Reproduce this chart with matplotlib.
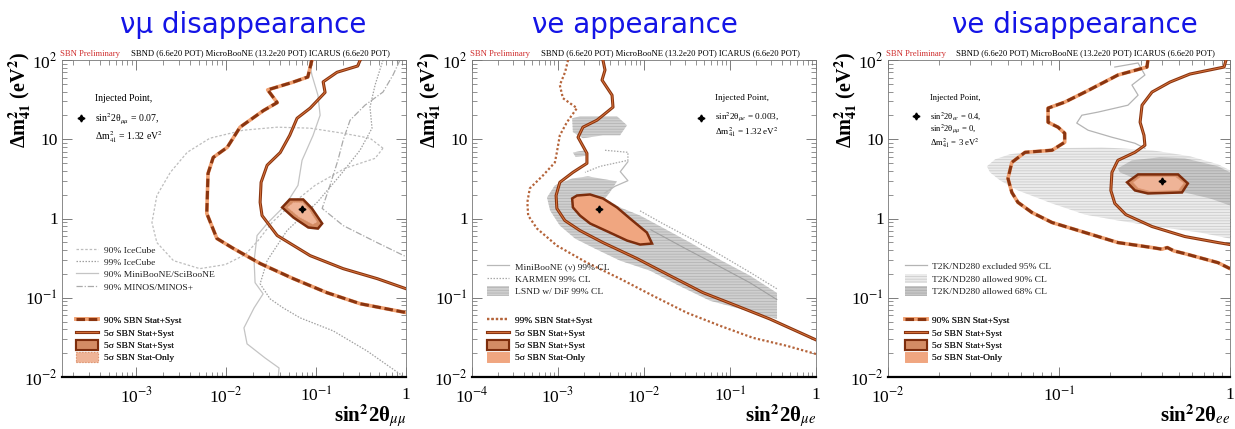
import matplotlib
matplotlib.use('Agg')
import matplotlib.pyplot as plt
import numpy as np
from matplotlib.lines import Line2D
from matplotlib.patches import Patch
from matplotlib.ticker import LogLocator, FuncFormatter, NullFormatter

plt.rcParams['font.family'] = ['Liberation Serif', 'DejaVu Serif']
plt.rcParams['mathtext.fontset'] = 'stix'
plt.rcParams['hatch.linewidth'] = 0.5

# ---------------- numu disappearance (sin^2 2theta_mumu, dm2_41) ----------------
mm_sbn90_x = [0.090, 0.081, 0.054, 0.029, 0.037, 0.026, 0.0143, 0.0103, 0.0072, 0.0063,
              0.0061, 0.0079, 0.012, 0.024, 0.056, 0.132, 0.31, 1.0]
mm_sbn90_y = [100, 61, 52, 42, 29, 23, 14.2, 7.9, 5.9, 3.7,
              1.16, 0.56, 0.42, 0.27, 0.174, 0.116, 0.084, 0.065]
mm_sbn5s_x = [0.31, 0.29, 0.171, 0.12, 0.126, 0.086, 0.0615, 0.051, 0.040, 0.0286,
              0.0245, 0.0239, 0.0251, 0.037, 0.086, 0.20, 0.48, 1.0]
mm_sbn5s_y = [100, 84, 70, 53, 39, 24.7, 18.4, 11.2, 6.8, 4.7,
              2.86, 1.6, 1.09, 0.61, 0.34, 0.233, 0.174, 0.13]
mm_syst_x = [0.042, 0.051, 0.072, 0.090, 0.117, 0.105, 0.082, 0.056]
mm_syst_y = [1.38, 1.74, 1.74, 1.34, 0.865, 0.746, 0.77, 1.03]
mm_stat_x = [0.048, 0.056, 0.071, 0.084, 0.103, 0.092, 0.064]
mm_stat_y = [1.38, 1.60, 1.60, 1.30, 0.90, 0.84, 1.05]
mm_ic90_x = [0.555, 0.398, 0.2, 0.086, 0.037, 0.0155, 0.0066, 0.0037, 0.0024, 0.0017, 0.0015,
             0.0017, 0.0026, 0.0051, 0.0098, 0.0163, 0.0227, 0.0324, 0.0514, 0.0975, 0.21, 0.453, 0.555]
mm_ic90_y = [7.7, 10.3, 11.9, 13.8, 14.2, 13, 10.3, 6.84, 3.82, 1.95, 0.89,
             0.497, 0.294, 0.233, 0.262, 0.35, 0.527, 0.89, 1.46, 2.62, 4.3, 5.74, 7.7]
mm_ic99_x = [0.555, 0.453, 0.398, 0.419, 0.308, 0.185, 0.103, 0.0476, 0.0286, 0.0239,
             0.0308, 0.043, 0.0664, 0.155, 0.369, 0.857, 1.0]
mm_ic99_y = [100, 48.3, 25.4, 13.8, 7.26, 3.5, 1.6, 0.705, 0.294, 0.15,
             0.097, 0.0746, 0.0558, 0.0382, 0.0213, 0.0109, 0.0095]
mm_mb_x = [0.0836, 0.090, 0.105, 0.111, 0.0927, 0.0699, 0.063, 0.0453, 0.0293, 0.0221,
           0.0205, 0.021, 0.0258, 0.0205, 0.0158, 0.0171, 0.0271, 0.0388, 0.038]
mm_mb_y = [100, 64.6, 36, 20.1, 11.2, 5.42, 2.62, 1.46, 0.89, 0.61,
           0.294, 0.155, 0.112, 0.0746, 0.0417, 0.0262, 0.0174, 0.013, 0.01]
mm_minos_x = [0.857, 0.717, 0.555, 0.35, 0.239, 0.2, 0.175, 0.143, 0.117, 0.2, 0.476, 1.0]
mm_minos_y = [100, 64.6, 39.4, 26.9, 17.4, 9.7, 5.42, 2.62, 1.34, 0.815, 0.497, 0.33]

# ---------------- nue appearance (sin^2 2theta_mue, dm2_41) ----------------
me_sbn99_x = [0.00131, 0.00121, 0.00105, 0.00114, 0.00166, 0.00127, 0.00105, 0.00097, 0.00092,
              0.00067, 0.00047, 0.00044, 0.00045, 0.00057, 0.00097, 0.00217, 0.00526, 0.0127,
              0.0316, 0.0766, 0.185, 0.46, 1.0]
me_sbn99_y = [100, 70.5, 48.3, 33, 24.7, 16.4, 11.2, 6.84, 5.1,
              3.5, 2.4, 1.6, 1.09, 0.746, 0.455, 0.277, 0.174, 0.106,
              0.0646, 0.0443, 0.0312, 0.0247, 0.0195]
me_sbn5s_x = [0.00333, 0.00352, 0.00325, 0.00425, 0.00436, 0.00284, 0.00195, 0.00171, 0.00217,
              0.00217, 0.00149, 0.00105, 0.00095, 0.00097, 0.0012, 0.0018, 0.00333, 0.0083,
              0.020, 0.0485, 0.12, 0.29, 1.0]
me_sbn5s_y = [100, 74.7, 55.8, 36, 25.4, 17.4, 14.2, 10.6, 6.65,
              4.97, 3.82, 2.86, 1.95, 1.34, 0.944, 0.705, 0.497, 0.312,
              0.19, 0.116, 0.079, 0.054, 0.0294]
me_syst_x = [0.00146, 0.00166, 0.00236, 0.00333, 0.00485, 0.00687, 0.0108, 0.0124,
             0.0090, 0.00634, 0.0040, 0.00236, 0.0018, 0.00149]
me_syst_y = [1.79, 1.95, 2.01, 1.79, 1.38, 1.0, 0.665, 0.483,
             0.469, 0.527, 0.665, 0.865, 1.09, 1.38]
me_lsnd_x = [0.000745, 0.00092, 0.00146, 0.00223, 0.00485, 0.0040, 0.00352, 0.00526, 0.009,
             0.0153, 0.034, 0.077, 0.171, 0.352, 0.352, 0.13, 0.0585, 0.0262, 0.0117,
             0.00526, 0.00269, 0.00158, 0.00105, 0.00081]
me_lsnd_y = [1.84, 2.62, 3.2, 3.4, 2.94, 2.13, 1.79, 1.38, 1.09,
             0.8, 0.5, 0.3, 0.19, 0.115, 0.054, 0.0726, 0.0917, 0.14, 0.22,
             0.294, 0.417, 0.558, 0.815, 1.26]
me_lsnd_hi_x = [0.00146, 0.0018, 0.00485, 0.00634, 0.00526, 0.00333, 0.00195, 0.00149]
me_lsnd_hi_y = [18.4, 19.5, 19.5, 15, 11.2, 11.2, 10.3, 12.3]
me_lsnd_mid_x = [0.00149, 0.0021, 0.0022, 0.0016]
me_lsnd_mid_y = [6.8, 7.3, 6.2, 6.0]
me_karmen_hi_x = [0.00352, 0.0065, 0.0065, 0.00308, 0.00206]
me_karmen_hi_y = [7.26, 6.84, 5.42, 4.55, 3.82]
me_karmen_lo_x = [0.009, 0.016, 0.035, 0.08, 0.17, 0.35]
me_karmen_lo_y = [1.25, 0.88, 0.56, 0.34, 0.21, 0.13]
me_mb_hi_x = [0.0065, 0.0053, 0.0065, 0.0046, 0.0035]
me_mb_hi_y = [5.2, 3.9, 3.0, 2.55, 2.1]
me_mb_lo_x = [0.012, 0.03, 0.08, 0.17, 0.35]
me_mb_lo_y = [0.72, 0.42, 0.24, 0.155, 0.095]

# ---------------- nue disappearance (sin^2 2theta_ee, dm2_41) ----------------
ee_sbn90_x = [0.331, 0.327, 0.221, 0.142, 0.108, 0.0863, 0.0863, 0.0987, 0.108, 0.108, 0.091,
              0.0633, 0.053, 0.0503, 0.053, 0.0575, 0.0695, 0.091, 0.142, 0.221, 0.35, 0.40,
              0.43, 0.47, 0.545, 0.851, 1.0]
ee_sbn90_y = [100, 81.5, 64.6, 39.4, 29.4, 24.7, 16.4, 14.2, 11.9, 9.16, 7.26,
              6.84, 5.11, 3.2, 2.13, 1.6, 1.19, 0.89, 0.665, 0.497, 0.43, 0.41,
              0.43, 0.39, 0.36, 0.277, 0.233]
ee_sbn5s_x = [0.948, 0.923, 0.583, 0.446, 0.35, 0.306, 0.298, 0.314, 0.318, 0.278, 0.221,
              0.204, 0.201, 0.212, 0.246, 0.35, 0.545, 0.851, 1.0]
ee_sbn5s_y = [100, 81.5, 66.5, 52.7, 39.4, 26.9, 16.4, 11.2, 8.4, 6.84, 5.42,
              3.82, 2.26, 1.55, 1.12, 0.792, 0.592, 0.497, 0.469]
ee_syst_x = [0.25, 0.29, 0.497, 0.567, 0.524, 0.331, 0.278]
ee_syst_y = [2.86, 3.6, 3.6, 2.77, 2.13, 2.07, 2.26]
ee_stat_x = [0.27, 0.30, 0.48, 0.54, 0.50, 0.34, 0.29]
ee_stat_y = [2.86, 3.4, 3.4, 2.8, 2.25, 2.2, 2.4]
ee_t2k90_x = [0.0379, 0.0423, 0.0517, 0.091, 0.178, 0.35, 0.583, 0.851, 1.0,
              1.0, 0.668, 0.34, 0.221, 0.142, 0.091, 0.0575, 0.0452, 0.0395]
ee_t2k90_y = [4.55, 5.58, 6.46, 7.69, 7.92, 7.26, 6.1, 4.83, 4.05,
              0.558, 0.665, 0.815, 0.944, 1.12, 1.55, 2.26, 3.03, 3.82]
ee_t2k68_x = [0.221, 0.267, 0.39, 0.545, 0.851, 1.0, 1.0, 0.764, 0.545, 0.39, 0.278, 0.227]
ee_t2k68_y = [4.3, 5.42, 5.92, 5.74, 4.55, 3.82, 1.46, 1.79, 2.13, 2.54, 3.2, 3.82]
ee_t2kex_x = [0.212, 0.29, 0.318, 0.267, 0.29, 0.253, 0.169, 0.136, 0.127, 0.148, 0.204, 0.278, 0.318]
ee_t2kex_y = [81.5, 91.7, 64.6, 48.3, 36, 26.9, 22, 20.1, 16, 13, 10.6, 8.9, 7.7]

# injected points
inj_x = [0.07, 0.003, 0.4]
inj_y = [1.32, 1.32, 3.0]

brown = '#8a3510'
orange = '#f0a070'
syst_fc = '#d48c64'
stat_fc = '#efb497'

W, H = 1235, 429


def log_label(v, pos):
    e = int(round(np.log10(v)))
    if e == 0:
        return '1'
    if e == 1:
        return '10'
    return r'10$^{%d}$' % e


def setup(ax, xmin, xlabel):
    ax.set_xscale('log')
    ax.set_yscale('log')
    ax.set_xlim(xmin, 1)
    ax.set_ylim(1e-2, 1e2)
    for a in (ax.xaxis, ax.yaxis):
        a.set_major_locator(LogLocator(base=10, numticks=12))
        a.set_minor_locator(LogLocator(base=10, subs=np.arange(2, 10), numticks=12))
        a.set_major_formatter(FuncFormatter(log_label))
        a.set_minor_formatter(NullFormatter())
    ax.tick_params(which='both', direction='in', top=True, right=True,
                   color='#666666', labelsize=12.5)
    ax.tick_params(which='major', length=7, width=0.6)
    ax.tick_params(which='minor', length=3.5, width=0.5)
    ax.tick_params(axis='x', pad=7)
    ax.tick_params(axis='y', pad=3)
    for s in ('top', 'right', 'left'):
        ax.spines[s].set_linewidth(0.6)
        ax.spines[s].set_color('#777777')
    ax.spines['bottom'].set_linewidth(1.6)
    # header
    ax.text(-0.005, 1.02, 'SBN Preliminary', color='#d03030', fontsize=6.2,
            transform=ax.transAxes, ha='left', va='center')
    ax.text(0.2, 1.02, 'SBND (6.6e20 POT) MicroBooNE (13.2e20 POT) ICARUS (6.6e20 POT)',
            fontsize=6.2, transform=ax.transAxes, ha='left', va='center')
    ax.text(1.0, -0.142, xlabel, fontsize=15, fontweight='bold',
            transform=ax.transAxes, ha='right', va='baseline')
    pos = ax.get_position()
    fig.text(pos.x0 - 42 / W, 1 - 52 / H,
             r'Δm$^{\mathbf{2}}_{\mathbf{41}}$ (eV$^{\mathbf{2}}$)',
             rotation=90, ha='center', va='top', fontsize=14.5, fontweight='bold')


def sbn_dashed(ax, x, y):
    ax.plot(x, y, color=orange, lw=2.6, zorder=5)
    ax.plot(x, y, color=brown, lw=2.2, ls=(0, (2.8, 1.2)), zorder=6)


def sbn_solid(ax, x, y):
    ax.plot(x, y, color=brown, lw=2.2, zorder=5)
    ax.plot(x, y, color='#e07a40', lw=0.6, zorder=6)


def injected(ax, px, py, lines, x0, y0, gap, dy, fs):
    ax.plot(px, py, marker=(4, 1, 0), ms=5, color='black', zorder=10)
    ax.text(x0, y0, 'Injected Point,', fontsize=fs, transform=ax.transAxes, va='center')
    ax.plot(x0 - 0.04, y0 - gap, marker=(4, 1, 0), ms=5, color='black',
            transform=ax.transAxes, clip_on=False)
    for i, s in enumerate(lines):
        ax.text(x0, y0 - gap - dy * i, s, fontsize=fs, transform=ax.transAxes, va='center')


def add_legend(ax, handles, labels, x, y):
    leg = ax.legend(handles, labels, loc='upper left', bbox_to_anchor=(x, y), frameon=False,
                    fontsize=6.8, handlelength=2.3, handleheight=1.2, labelspacing=0.25,
                    handletextpad=0.6, borderpad=0, borderaxespad=0, labelcolor='#222222')
    ax.add_artist(leg)


fig = plt.figure(figsize=(W / 100, H / 100), dpi=100)
ax1 = fig.add_axes([62 / W, 1 - 377 / H, 344 / W, 317 / H])
ax2 = fig.add_axes([472 / W, 1 - 377 / H, 344 / W, 317 / H])
ax3 = fig.add_axes([888 / W, 1 - 377 / H, 342 / W, 317 / H])

title_kw = dict(fontsize=20, color='#1414e6', family='DejaVu Sans', ha='center', va='center')
fig.text(243 / W, 1 - 25 / H, 'νμ disappearance', **title_kw)
fig.text(635 / W, 1 - 25 / H, 'νe appearance', **title_kw)
fig.text(1075 / W, 1 - 25 / H, 'νe disappearance', **title_kw)

dash_h = (Line2D([], [], color=orange, lw=2.6), Line2D([], [], color=brown, lw=2.2, ls=(0, (2.8, 1.2))))
solid_h = (Line2D([], [], color=brown, lw=2.2), Line2D([], [], color='#e07a40', lw=0.6))
syst_h = Patch(fc=syst_fc, ec='#7d2d0c', lw=1.5)
stat_h = Patch(fc=stat_fc, ec='#dc9470', lw=0.8, ls=':')

# ---- panel 1 ----
setup(ax1, 1.5e-4, r'sin$^{\mathbf{2}}$2θ$_{\mu\mu}$')
ax1.plot(mm_ic90_x, mm_ic90_y, color='#bdbdbd', lw=0.9, ls=(0, (2, 1.5)))
ax1.plot(mm_ic99_x, mm_ic99_y, color='#a0a0a0', lw=0.9, ls=(0, (1.2, 1.2)))
ax1.plot(mm_mb_x, mm_mb_y, color='#c4c4c4', lw=0.9)
ax1.plot(mm_minos_x, mm_minos_y, color='#aaaaaa', lw=0.9, ls=(0, (5, 1.5, 1, 1.5)))
sbn_dashed(ax1, mm_sbn90_x, mm_sbn90_y)
sbn_solid(ax1, mm_sbn5s_x, mm_sbn5s_y)
ax1.fill(mm_syst_x, mm_syst_y, fc=syst_fc, ec='#7d2d0c', lw=1.8, zorder=7)
ax1.fill(mm_stat_x, mm_stat_y, fc=stat_fc, ec='#dc9470', lw=0.6, ls=':', zorder=8)
injected(ax1, inj_x[0], inj_y[0],
         [r'sin$^{2}$2θ$_{\mu\mu}$ = 0.07,', r'Δm$^{2}_{41}$ = 1.32 eV$^{2}$'],
         0.096, 0.88, 0.063, 0.06, 7)
add_legend(ax1,
           [Line2D([], [], color='#bdbdbd', lw=0.9, ls=(0, (2, 1.5))),
            Line2D([], [], color='#a0a0a0', lw=0.9, ls=(0, (1.2, 1.2))),
            Line2D([], [], color='#c4c4c4', lw=0.9),
            Line2D([], [], color='#aaaaaa', lw=0.9, ls=(0, (5, 1.5, 1, 1.5)))],
           ['90% IceCube', '99% IceCube', '90% MiniBooNE/SciBooNE', '90% MINOS/MINOS+'],
           0.042, 0.418)
add_legend(ax1, [dash_h, solid_h, syst_h, stat_h],
           ['90% SBN Stat+Syst', '5σ SBN Stat+Syst', '5σ SBN Stat+Syst', '5σ SBN Stat-Only'],
           0.042, 0.195)

# ---- panel 2 ----
setup(ax2, 1e-4, r'sin$^{\mathbf{2}}$2θ$_{\mu e}$')
ax2.fill(me_lsnd_x, me_lsnd_y, fc='#cfcfcf', ec='#b0b0b0', lw=0, hatch='------', zorder=2)
ax2.fill(me_lsnd_hi_x, me_lsnd_hi_y, fc='#cfcfcf', ec='#b0b0b0', lw=0, hatch='------', zorder=2)
ax2.fill(me_lsnd_mid_x, me_lsnd_mid_y, fc='#cfcfcf', ec='#b0b0b0', lw=0, hatch='------', zorder=2)
ax2.plot(me_karmen_hi_x, me_karmen_hi_y, color='#a8a8a8', lw=0.9, ls=(0, (1.2, 1.2)), zorder=3)
ax2.plot(me_karmen_lo_x, me_karmen_lo_y, color='#a8a8a8', lw=0.9, ls=(0, (1.2, 1.2)), zorder=3)
ax2.plot(me_mb_hi_x, me_mb_hi_y, color='#b8b8b8', lw=0.9, zorder=3)
ax2.plot(me_mb_lo_x, me_mb_lo_y, color='#a0a0a0', lw=0.8, zorder=3)
ax2.plot(me_sbn99_x, me_sbn99_y, color='#b5643a', lw=1.6, ls=(0, (1, 1)), zorder=5)
sbn_solid(ax2, me_sbn5s_x, me_sbn5s_y)
ax2.fill(me_syst_x, me_syst_y, fc='#f0a680', ec='#7d2d0c', lw=1.8, zorder=7)
injected(ax2, inj_x[1], inj_y[1],
         [r'sin$^{2}$2θ$_{\mu e}$ = 0.003,', r'Δm$^{2}_{41}$ = 1.32 eV$^{2}$'],
         0.706, 0.88, 0.062, 0.045, 6.6)
add_legend(ax2,
           [Line2D([], [], color='#b8b8b8', lw=0.9),
            Line2D([], [], color='#a8a8a8', lw=0.9, ls=(0, (1.2, 1.2))),
            Patch(fc='#cfcfcf', ec='#b0b0b0', lw=0, hatch='------')],
           ['MiniBooNE (ν) 99% CL', 'KARMEN 99% CL', 'LSND w/ DiF 99% CL'],
           0.044, 0.365)
add_legend(ax2,
           [Line2D([], [], color='#b5643a', lw=1.6, ls=(0, (1, 1))), solid_h, syst_h,
            Patch(fc='#f0a680', ec='#f0a680', lw=0.5)],
           ['99% SBN Stat+Syst', '5σ SBN Stat+Syst', '5σ SBN Stat+Syst', '5σ SBN Stat-Only'],
           0.044, 0.195)

# ---- panel 3 ----
setup(ax3, 1e-2, r'sin$^{\mathbf{2}}$2θ$_{ee}$')
ax3.fill(ee_t2k90_x, ee_t2k90_y, fc='#ebebeb', ec='#c8c8c8', lw=0, hatch='------', zorder=2)
ax3.fill(ee_t2k68_x, ee_t2k68_y, fc='#c6c6c6', ec='#a8a8a8', lw=0, hatch='------', zorder=3)
ax3.plot(ee_t2kex_x, ee_t2kex_y, color='#b4b4b4', lw=0.9, zorder=3)
sbn_dashed(ax3, ee_sbn90_x, ee_sbn90_y)
sbn_solid(ax3, ee_sbn5s_x, ee_sbn5s_y)
ax3.fill(ee_syst_x, ee_syst_y, fc=syst_fc, ec='#7d2d0c', lw=1.8, zorder=7)
ax3.fill(ee_stat_x, ee_stat_y, fc=stat_fc, ec='#dc9470', lw=0.6, zorder=8)
injected(ax3, inj_x[2], inj_y[2],
         [r'sin$^{2}$2θ$_{ee}$ = 0.4,', r'sin$^{2}$2θ$_{\mu\mu}$ = 0,', r'Δm$^{2}_{41}$ = 3 eV$^{2}$'],
         0.123, 0.88, 0.058, 0.042, 6.2)
add_legend(ax3,
           [Line2D([], [], color='#b4b4b4', lw=0.9),
            Patch(fc='#ebebeb', ec='#c8c8c8', lw=0, hatch='------'),
            Patch(fc='#c6c6c6', ec='#a8a8a8', lw=0, hatch='------')],
           ['T2K/ND280 excluded 95% CL', 'T2K/ND280 allowed 90% CL', 'T2K/ND280 allowed 68% CL'],
           0.05, 0.365)
add_legend(ax3, [dash_h, solid_h, syst_h, Patch(fc='#f0a680', ec='#f0a680', lw=0.5)],
           ['90% SBN Stat+Syst', '5σ SBN Stat+Syst', '5σ SBN Stat+Syst', '5σ SBN Stat-Only'],
           0.05, 0.195)

fig.savefig('out.png', dpi=100)
